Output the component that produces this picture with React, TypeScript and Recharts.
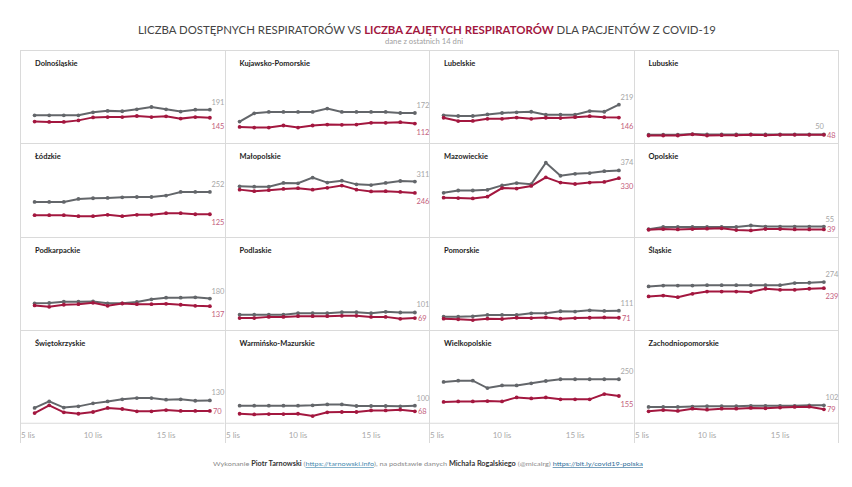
import { LabelList, Line, LineChart, XAxis, YAxis } from "recharts";

// dni listopada (6–18 lis)
const days = [6, 7, 8, 9, 10, 11, 12, 13, 14, 15, 16, 17, 18];
const axisTicks = [5, 10, 15];

const regions = [
  "Dolnośląskie",
  "Kujawsko-Pomorskie",
  "Lubelskie",
  "Lubuskie",
  "Łódzkie",
  "Małopolskie",
  "Mazowieckie",
  "Opolskie",
  "Podkarpackie",
  "Podlaskie",
  "Pomorskie",
  "Śląskie",
  "Świętokrzyskie",
  "Warmińsko-Mazurskie",
  "Wielkopolskie",
  "Zachodniopomorskie",
];

// dostępne respiratory
const dolnoslaskieAvail = [159, 159, 159, 159, 176, 184, 182, 193, 206, 193, 180, 191, 191];
const kujawskoAvail = [123, 170, 178, 178, 178, 178, 197, 178, 178, 178, 178, 172, 172];
const lubelskieAvail = [159, 155, 155, 164, 172, 176, 179, 162, 162, 162, 183, 179, 219];
const lubuskieAvail = [49, 49, 49, 52, 50, 50, 50, 50, 50, 50, 50, 50, 50];
const lodzkieAvail = [195, 195, 195, 212, 216, 218, 221, 223, 223, 231, 252, 252, 252];
const malopolskieAvail = [284, 282, 282, 303, 301, 333, 305, 316, 295, 291, 303, 314, 311];
const mazowieckieAvail = [247, 260, 260, 264, 289, 302, 296, 418, 344, 355, 359, 370, 374];
const opolskieAvail = [40, 53, 53, 53, 53, 53, 53, 61, 55, 55, 55, 55, 55];
const podkarpackieAvail = [153, 155, 162, 162, 164, 153, 153, 161, 176, 185, 185, 187, 180];
const podlaskieAvail = [88, 88, 88, 88, 97, 97, 97, 103, 103, 97, 105, 101, 101];
const pomorskieAvail = [77, 77, 79, 87, 87, 87, 96, 96, 108, 106, 113, 110, 111];
const slaskieAvail = [249, 254, 254, 254, 256, 256, 256, 256, 256, 256, 268, 270, 274];
const swietokrzyskieAvail = [87, 124, 89, 96, 113, 124, 136, 143, 143, 134, 136, 128, 130];
const warminskoAvail = [100, 100, 100, 100, 100, 102, 107, 107, 98, 98, 98, 96, 100];
const wielkopolskieAvail = [235, 242, 242, 200, 215, 215, 227, 240, 250, 250, 250, 250, 250];
const zachodnioAvail = [93, 93, 93, 95, 97, 97, 97, 99, 99, 99, 99, 102, 102];

// zajęte respiratory
const dolnoslaskieBusy = [123, 121, 121, 130, 147, 149, 149, 155, 149, 153, 140, 149, 145];
const kujawskoBusy = [93, 89, 89, 101, 89, 101, 106, 105, 106, 116, 116, 120, 112];
const lubelskieBusy = [145, 126, 127, 139, 139, 146, 139, 145, 143, 148, 154, 148, 146];
const lubuskieBusy = [44, 44, 44, 51, 44, 46, 46, 49, 46, 48, 48, 48, 48];
const lodzkieBusy = [120, 120, 120, 114, 114, 122, 114, 122, 122, 131, 131, 125, 125];
const malopolskieBusy = [265, 256, 262, 269, 273, 265, 275, 288, 265, 255, 256, 252, 246];
const mazowieckieBusy = [219, 217, 215, 225, 274, 271, 286, 335, 305, 297, 305, 309, 330];
const opolskieBusy = [37, 41, 39, 41, 43, 45, 35, 33, 41, 41, 39, 39, 39];
const podkarpackieBusy = [141, 133, 145, 148, 156, 139, 152, 148, 148, 150, 145, 139, 137];
const podlaskieBusy = [69, 69, 76, 76, 80, 80, 80, 82, 82, 76, 76, 65, 69];
const pomorskieBusy = [66, 62, 58, 66, 64, 71, 69, 73, 66, 69, 71, 73, 71];
const slaskieBusy = [192, 197, 188, 207, 220, 220, 220, 217, 236, 230, 230, 236, 239];
const swietokrzyskieBusy = [58, 102, 62, 54, 64, 87, 81, 68, 68, 75, 70, 70, 70];
const warminskoBusy = [54, 50, 52, 52, 54, 41, 62, 64, 64, 73, 73, 77, 68];
const wielkopolskieBusy = [121, 124, 124, 126, 124, 147, 141, 147, 136, 136, 136, 166, 155];
const zachodnioBusy = [68, 75, 70, 83, 77, 83, 83, 87, 85, 89, 93, 94, 79];

const availList = [
  dolnoslaskieAvail, kujawskoAvail, lubelskieAvail, lubuskieAvail,
  lodzkieAvail, malopolskieAvail, mazowieckieAvail, opolskieAvail,
  podkarpackieAvail, podlaskieAvail, pomorskieAvail, slaskieAvail,
  swietokrzyskieAvail, warminskoAvail, wielkopolskieAvail, zachodnioAvail,
];
const busyList = [
  dolnoslaskieBusy, kujawskoBusy, lubelskieBusy, lubuskieBusy,
  lodzkieBusy, malopolskieBusy, mazowieckieBusy, opolskieBusy,
  podkarpackieBusy, podlaskieBusy, pomorskieBusy, slaskieBusy,
  swietokrzyskieBusy, warminskoBusy, wielkopolskieBusy, zachodnioBusy,
];

const GRAY = "#63666a";
const RED = "#a3173f";
const GRID = "#dadada";
const FONT = "Lato, 'Open Sans', sans-serif";

const GRID_LEFT = 20;
const GRID_TOP = 50;
const COL_W = 204.5;
const ROW_H = 93.25;
const AXIS_H = 20;

const DayTick = (props: any) => {
  const { x, y, payload } = props;
  const first = payload.value === 5;
  return (
    <text
      x={first ? x + 1 : x}
      y={y}
      dy={13}
      textAnchor={first ? "start" : "middle"}
      fontSize={8}
      fontFamily={FONT}
      fill="#a8a8a8"
    >
      {`${payload.value} lis`}
    </text>
  );
};

// etykieta tylko przy ostatnim punkcie
const lastLabel = (kind: "avail" | "busy", other: number[]) => (props: any) => {
  const { x, y, value, index } = props;
  if (index !== days.length - 1) return <g />;
  if (kind === "avail") {
    const crowded = value - other[index] < 8;
    return (
      <text
        x={crowded ? x : x + 1.5}
        y={y - 5}
        textAnchor={crowded ? "end" : "start"}
        fontSize={7.5}
        fontFamily={FONT}
        fill="#a6a6a6"
      >
        {value}
      </text>
    );
  }
  const low = value < 100;
  return (
    <text x={x + (low ? 3 : 1.5)} y={low ? y + 3 : y + 11} fontSize={7.5} fontFamily={FONT} fill="#c4607d">
      {value}
    </text>
  );
};

interface PanelProps {
  name: string;
  avail: number[];
  busy: number[];
  left: number;
  top: number;
  showAxis: boolean;
}

function Panel({ name, avail, busy, left, top, showAxis }: PanelProps) {
  const data = days.map((d, i) => ({ day: d, avail: avail[i], busy: busy[i] }));
  const h = ROW_H + (showAxis ? AXIS_H : 0);
  return (
    <div style={{ position: "absolute", left, top, width: COL_W, height: h }}>
      <LineChart width={COL_W} height={h} data={data} margin={{ top: 0, right: 0, bottom: 0, left: 0 }}>
        <XAxis
          dataKey="day"
          type="number"
          domain={[5, 19]}
          ticks={axisTicks}
          interval={0}
          hide={!showAxis}
          height={AXIS_H}
          axisLine={{ stroke: GRID }}
          tickLine={false}
          tickSize={0}
          tick={<DayTick />}
        />
        <YAxis hide domain={[0, 530]} />
        <Line
          dataKey="avail"
          stroke={GRAY}
          strokeWidth={2}
          dot={{ r: 1.9, fill: GRAY, stroke: GRAY, strokeWidth: 0 }}
          isAnimationActive={false}
        >
          <LabelList dataKey="avail" content={lastLabel("avail", busy)} />
        </Line>
        <Line
          dataKey="busy"
          stroke={RED}
          strokeWidth={2}
          dot={{ r: 1.9, fill: RED, stroke: RED, strokeWidth: 0 }}
          isAnimationActive={false}
        >
          <LabelList dataKey="busy" content={lastLabel("busy", avail)} />
        </Line>
      </LineChart>
      <div
        style={{
          position: "absolute",
          left: 15,
          top: 10,
          fontFamily: FONT,
          fontWeight: 700,
          fontSize: 7.5,
          lineHeight: "8px",
          color: "#1e1e1e",
          whiteSpace: "nowrap",
        }}
      >
        {name}
      </div>
    </div>
  );
}

export default function App() {
  const bottom = GRID_TOP + ROW_H * 4;
  const cols = [0, 1, 2, 3, 4].map((c) => Math.round(GRID_LEFT + c * COL_W) + 0.5);
  const rows = [0, 1, 2, 3].map((r) => Math.round(GRID_TOP + r * ROW_H) + 0.5);

  return (
    <div
      style={{
        position: "absolute",
        left: 0,
        top: 0,
        width: 852,
        height: 487,
        background: "#fff",
        overflow: "hidden",
      }}
    >
      <style>{`.recharts-surface { overflow: visible; }`}</style>
      <svg width={852} height={487} style={{ position: "absolute", left: 0, top: 0 }}>
        {rows.map((y) => (
          <line key={`h${y}`} x1={GRID_LEFT} x2={GRID_LEFT + COL_W * 4} y1={y} y2={y} stroke={GRID} />
        ))}
        {cols.map((x) => (
          <line key={`v${x}`} x1={x} x2={x} y1={GRID_TOP} y2={bottom + 20} stroke={GRID} />
        ))}
        <text
          x={427}
          y={34}
          textAnchor="middle"
          fontFamily={FONT}
          fontSize={11.5}
          textLength={578}
          lengthAdjust="spacingAndGlyphs"
        >
          <tspan fill="#444">LICZBA DOSTĘPNYCH RESPIRATORÓW VS </tspan>
          <tspan fill={RED} fontWeight={700}>LICZBA ZAJĘTYCH RESPIRATORÓW</tspan>
          <tspan fill="#444"> DLA PACJENTÓW Z COVID-19</tspan>
        </text>
        <text
          x={424}
          y={44}
          textAnchor="middle"
          fontFamily={FONT}
          fontSize={7}
          fill="#a0a0a0"
          textLength={78}
          lengthAdjust="spacingAndGlyphs"
        >
          dane z ostatnich 14 dni
        </text>
        <text
          x={428}
          y={466}
          textAnchor="middle"
          fontFamily={FONT}
          fontSize={6.5}
          fill="#8a8a8a"
          textLength={430}
          lengthAdjust="spacingAndGlyphs"
        >
          <tspan>Wykonanie </tspan>
          <tspan fontWeight={700} fill="#333">Piotr Tarnowski</tspan>
          <tspan> (</tspan>
          <tspan fill="#4a8bb0" textDecoration="underline">https://tarnowski.info</tspan>
          <tspan>), na podstawie danych </tspan>
          <tspan fontWeight={700} fill="#333">Michała Rogalskiego</tspan>
          <tspan> (@micalrg) </tspan>
          <tspan fill="#2f6f9a" textDecoration="underline">https://bit.ly/covid19-polska</tspan>
        </text>
      </svg>
      {regions.map((name, i) => {
        const c = i % 4;
        const r = Math.floor(i / 4);
        return (
          <Panel
            key={name}
            name={name}
            avail={availList[i]}
            busy={busyList[i]}
            left={GRID_LEFT + c * COL_W}
            top={GRID_TOP + r * ROW_H}
            showAxis={r === 3}
          />
        );
      })}
    </div>
  );
}
